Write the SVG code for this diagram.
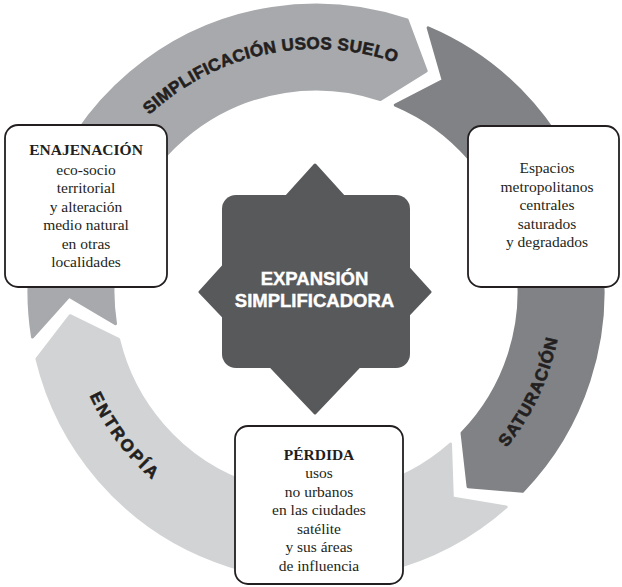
<svg xmlns="http://www.w3.org/2000/svg" width="622" height="587" viewBox="0 0 622 587">
  <style>
    .seg { stroke-width: 3; stroke-linejoin: round; }
    .box { fill: #ffffff; stroke: #231f20; stroke-width: 1.8; }
    .txt { font-family: "Liberation Serif", "Times New Roman", serif; font-size: 15.5px; fill: #231f20; text-anchor: middle; }
    .ttl { font-weight: bold; }
    .lbl { font-family: "Liberation Sans", Arial, sans-serif; font-weight: bold; font-size: 17px; fill: #231f20; stroke: #231f20; stroke-width: 0.6; text-anchor: middle; }
    .core { font-family: "Liberation Sans", Arial, sans-serif; font-weight: bold; font-size: 18.5px; fill: #ffffff; stroke: #ffffff; stroke-width: 0.4; text-anchor: middle; }
  </style>
  <defs>
    <path id="arcTop" d="M87.65,208.89 A243,243 0 0 1 490.79,123.19"/>
    <path id="arcRight" d="M400.14,523.16 A246,246 0 0 0 547.16,207.86"/>
    <path id="arcLeft" d="M69.42,257.35 A249,249 0 0 0 281.35,538.58"/>
  </defs>

  <!-- cycle ring: three chevron arrows running clockwise -->
  <g id="connectors">
    <path id="arrow-simplificacion" class="seg" fill="#a7a9ac" stroke="#a7a9ac"
          d="M32.53,336.90 L69.04,296.31 L115.50,323.76 A203,203 0 0 1 380.41,99.49 L426.21,70.95 L407.07,19.83 A287,287 0 0 0 32.53,336.90 Z"/>
    <path id="arrow-saturacion" class="seg" fill="#808285" stroke="#808285"
          d="M428.14,27.82 L443.21,80.28 L395.32,105.14 A203,203 0 0 1 462.03,433.02 L468.07,486.64 L522.45,491.37 A287,287 0 0 0 428.14,27.82 Z"/>
    <path id="arrow-entropia" class="seg" fill="#d1d3d4" stroke="#d1d3d4"
          d="M506.17,506.95 L452.33,497.97 L450.51,444.04 A203,203 0 0 1 118.61,339.39 L70.14,315.67 L36.93,359.00 A287,287 0 0 0 506.17,506.95 Z"/>
    <text class="lbl" font-size="18" letter-spacing="0.4"><textPath href="#arcTop" startOffset="50%">SIMPLIFICACIÓN USOS SUELO</textPath></text>
    <text class="lbl" letter-spacing="1"><textPath href="#arcRight" startOffset="50%">SATURACIÓN</textPath></text>
    <text class="lbl" letter-spacing="2.5"><textPath href="#arcLeft" startOffset="50%">ENTROPÍA</textPath></text>
  </g>

  <!-- central star -->
  <g id="expansion">
    <polygon points="315,165 430,292 315,413 200,292" fill="#58595b" stroke="#58595b" stroke-width="3" stroke-linejoin="round"/>
    <rect x="222" y="195" width="188" height="173" rx="14" fill="#58595b"/>
    <text class="core" x="314.5" y="285">EXPANSIÓN</text>
    <text class="core" x="314.5" y="306.5">SIMPLIFICADORA</text>
  </g>

  <g id="enajenacion">
    <rect class="box" x="5" y="125" width="162" height="162" rx="13"/>
    <text class="txt ttl" x="86" y="155">ENAJENACIÓN</text>
    <text class="txt" x="86" y="174.5">eco-socio</text>
    <text class="txt" x="86" y="193">territorial</text>
    <text class="txt" x="86" y="211.5">y alteración</text>
    <text class="txt" x="86" y="230">medio natural</text>
    <text class="txt" x="86" y="248.5">en otras</text>
    <text class="txt" x="86" y="267">localidades</text>
  </g>

  <g id="espacios">
    <rect class="box" x="468" y="126" width="151" height="161" rx="13"/>
    <text class="txt" x="547" y="173">Espacios</text>
    <text class="txt" x="547" y="191.5">metropolitanos</text>
    <text class="txt" x="547" y="210">centrales</text>
    <text class="txt" x="547" y="228.5">saturados</text>
    <text class="txt" x="547" y="247">y degradados</text>
  </g>

  <g id="perdida">
    <rect class="box" x="235" y="426" width="168" height="158" rx="13"/>
    <text class="txt ttl" x="319" y="460">PÉRDIDA</text>
    <text class="txt" x="319" y="478">usos</text>
    <text class="txt" x="319" y="496.5">no urbanos</text>
    <text class="txt" x="319" y="515">en las ciudades</text>
    <text class="txt" x="319" y="533.5">satélite</text>
    <text class="txt" x="319" y="552">y sus áreas</text>
    <text class="txt" x="319" y="570.5">de influencia</text>
  </g>
</svg>
